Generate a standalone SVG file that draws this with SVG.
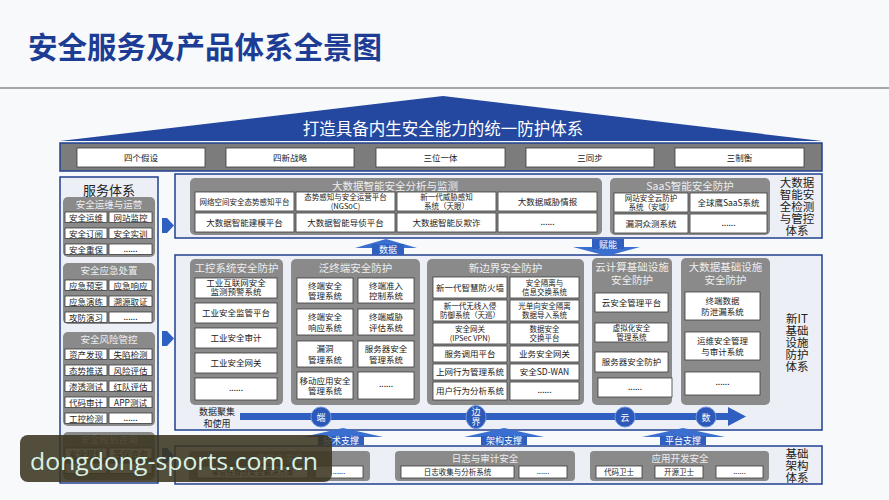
<svg xmlns="http://www.w3.org/2000/svg" width="889" height="500" viewBox="0 0 889 500">
<style>
text{font-family:"Noto Sans CJK SC","Noto Sans",sans-serif;text-anchor:middle}
.panel{fill:#eceff5;stroke:#21408f;stroke-width:1.5}
.grp{fill:#8a8a8a}
.bx{fill:#fff;stroke:#3a3a3a;stroke-width:0.8}
.gt{fill:#eeeeee;font-size:10.5px}
.gs{fill:#eeeeee;font-size:9.5px}
.t{fill:#222;font-size:8.5px}
.ts{fill:#222;font-size:7.5px}
.lb{fill:#222;font-size:11.5px}
.blue{fill:#2f5fc0}
.lt{fill:#fff;font-size:9px}
</style>
<rect width="889" height="500" fill="#f8f9fb"/>
<text x="28" y="58" style="text-anchor:start;font-size:29.5px;font-weight:700;fill:#1d3d95">安全服务及产品体系全景图</text>
<line x1="0" y1="88" x2="889" y2="88" stroke="#8a8a8a" stroke-width="1.5"/>

<g id="roof">
<polygon points="60,141 443,96 822,141" fill="#24479f"/>
<text x="443" y="135" style="fill:#fff;font-size:16.5px">打造具备内生安全能力的统一防护体系</text>
</g>
<g id="band">
<rect x="60" y="143" width="762" height="28" fill="#7c7c7c" stroke="#21408f" stroke-width="1.5"/>
<rect class="bx" x="77" y="148" width="128" height="19"/><text class="t" x="141" y="161">四个假设</text>
<rect class="bx" x="226" y="148" width="128" height="19"/><text class="t" x="290" y="161">四新战略</text>
<rect class="bx" x="376" y="148" width="129" height="19"/><text class="t" x="440.5" y="161">三位一体</text>
<rect class="bx" x="526" y="148" width="128" height="19"/><text class="t" x="590" y="161">三同步</text>
<rect class="bx" x="675" y="148" width="129" height="19"/><text class="t" x="739.5" y="161">三制衡</text>
</g>

<g id="service">
<rect class="panel" x="60" y="177" width="98" height="306"/>
<text x="109" y="195" style="fill:#222;font-size:13px">服务体系</text>
<rect class="grp" x="63" y="197" width="92" height="60" rx="5"/>
<text class="gs" x="109" y="208">安全运维与运营</text>
<rect class="bx" x="65" y="212" width="42" height="10.5"/><text class="t" x="86" y="220.5">安全运维</text>
<rect class="bx" x="109" y="212" width="43" height="10.5"/><text class="t" x="130.5" y="220.5">网站监控</text>
<rect class="bx" x="65" y="228" width="42" height="10.5"/><text class="t" x="86" y="236.5">安全订阅</text>
<rect class="bx" x="109" y="228" width="43" height="10.5"/><text class="t" x="130.5" y="236.5">安全实训</text>
<rect class="bx" x="65" y="244" width="42" height="10.5"/><text class="t" x="86" y="252.5">安全重保</text>
<rect class="bx" x="109" y="244" width="43" height="10.5"/><text class="t" x="130.5" y="251.5">......</text>

<rect class="grp" x="63" y="263" width="92" height="61" rx="5"/>
<text class="gs" x="109" y="274">安全应急处置</text>
<rect class="bx" x="65" y="280" width="42" height="10.5"/><text class="t" x="86" y="288.5">应急预案</text>
<rect class="bx" x="109" y="280" width="43" height="10.5"/><text class="t" x="130.5" y="288.5">应急响应</text>
<rect class="bx" x="65" y="296" width="42" height="10.5"/><text class="t" x="86" y="304.5">应急演练</text>
<rect class="bx" x="109" y="296" width="43" height="10.5"/><text class="t" x="130.5" y="304.5">溯源取证</text>
<rect class="bx" x="65" y="312" width="42" height="10.5"/><text class="t" x="86" y="320.5">攻防演习</text>
<rect class="bx" x="109" y="312" width="43" height="10.5"/><text class="t" x="130.5" y="319.5">......</text>

<rect class="grp" x="63" y="332" width="92" height="94" rx="5"/>
<text class="gs" x="109" y="343">安全风险管控</text>
<rect class="bx" x="65" y="349" width="42" height="10.5"/><text class="t" x="86" y="357.5">资产发现</text>
<rect class="bx" x="109" y="349" width="43" height="10.5"/><text class="t" x="130.5" y="357.5">失陷检测</text>
<rect class="bx" x="65" y="365" width="42" height="10.5"/><text class="t" x="86" y="373.5">态势推送</text>
<rect class="bx" x="109" y="365" width="43" height="10.5"/><text class="t" x="130.5" y="373.5">风险评估</text>
<rect class="bx" x="65" y="381" width="42" height="10.5"/><text class="t" x="86" y="389.5">渗透测试</text>
<rect class="bx" x="109" y="381" width="43" height="10.5"/><text class="t" x="130.5" y="389.5">红队评估</text>
<rect class="bx" x="65" y="397" width="42" height="10.5"/><text class="t" x="86" y="405.5">代码审计</text>
<rect class="bx" x="109" y="397" width="43" height="10.5"/><text class="t" x="130.5" y="405.5">APP测试</text>
<rect class="bx" x="65" y="413" width="42" height="10.5"/><text class="t" x="86" y="421.5">工控检测</text>
<rect class="bx" x="109" y="413" width="43" height="10.5"/><text class="t" x="130.5" y="420.5">......</text>

<rect class="grp" x="63" y="432" width="92" height="48" rx="5"/>
<text class="gs" x="109" y="443">安全规划咨询</text>
<rect class="bx" x="65" y="448" width="42" height="10.5"/><text class="t" x="86" y="456.5">安全规划</text>
<rect class="bx" x="109" y="448" width="43" height="10.5"/><text class="t" x="130.5" y="456.5">等保咨询</text>
<rect class="bx" x="65" y="463" width="42" height="10.5"/>
<rect class="bx" x="109" y="463" width="43" height="10.5"/>
</g>

<g id="bigdata">
<rect class="panel" x="175" y="174" width="647" height="64"/>
<text class="lb" x="797" y="187">大数据</text>
<text class="lb" x="797" y="199">智能安</text>
<text class="lb" x="797" y="211">全检测</text>
<text class="lb" x="797" y="223">与管控</text>
<text class="lb" x="797" y="235">体系</text>
<rect class="grp" x="190" y="178" width="412" height="57" rx="5"/>
<text class="gt" x="395" y="190">大数据智能安全分析与监测</text>
<rect class="bx" x="195" y="192" width="99" height="19"/><text class="ts" x="244.5" y="204.5">网络空间安全态势感知平台</text>
<rect class="bx" x="296" y="192" width="99" height="19"/><text class="ts" x="345.5" y="200">态势感知与安全运营平台</text><text class="ts" x="345.5" y="209">(NGSoC)</text>
<rect class="bx" x="397" y="192" width="99" height="19"/><text class="ts" x="446.5" y="200">新一代威胁感知</text><text class="ts" x="446.5" y="209">系统（天眼）</text>
<rect class="bx" x="498" y="192" width="99" height="19"/><text class="t" x="547.5" y="204.5">大数据威胁情报</text>
<rect class="bx" x="195" y="213" width="99" height="19"/><text class="t" x="244.5" y="225.5">大数据智能建模平台</text>
<rect class="bx" x="296" y="213" width="99" height="19"/><text class="t" x="345.5" y="225.5">大数据智能导侦平台</text>
<rect class="bx" x="397" y="213" width="99" height="19"/><text class="t" x="446.5" y="225.5">大数据智能反欺诈</text>
<rect class="bx" x="498" y="213" width="99" height="19"/><text class="t" x="547.5" y="224.5">......</text>
</g>
<g id="saas">
<rect class="grp" x="610" y="178" width="160" height="57" rx="5"/>
<text class="gt" x="690" y="190">SaaS智能安全防护</text>
<rect class="bx" x="614" y="193" width="74" height="19"/><text class="ts" x="651" y="201">网站安全云防护</text><text class="ts" x="651" y="210">系统（安域）</text>
<rect class="bx" x="690" y="193" width="77" height="19"/><text class="t" x="728.5" y="205.5">全球鹰SaaS系统</text>
<rect class="bx" x="614" y="214" width="74" height="19"/><text class="t" x="651" y="226.5">漏洞众测系统</text>
<rect class="bx" x="690" y="214" width="77" height="19"/><text class="t" x="728.5" y="225.5">......</text>
</g>

<g id="newit">
<rect class="panel" x="175" y="255" width="647" height="175"/>
<text class="lb" x="797" y="323">新IT</text>
<text class="lb" x="797" y="335">基础</text>
<text class="lb" x="797" y="347">设施</text>
<text class="lb" x="797" y="359">防护</text>
<text class="lb" x="797" y="371">体系</text>
<text x="217" y="415" style="fill:#222;font-size:9px">数据聚集</text>
<text x="217" y="427" style="fill:#222;font-size:9px">和使用</text>
</g>
<g id="ics">
<rect class="grp" x="190" y="259" width="93" height="146" rx="5"/>
<text class="gt" x="236.5" y="272">工控系统安全防护</text>
<rect class="bx" x="195" y="278" width="82" height="20"/><text class="t" x="236" y="285.5">工业互联网安全</text><text class="t" x="236" y="295">监测预警系统</text>
<rect class="bx" x="195" y="303" width="82" height="20"/><text class="t" x="236" y="316">工业安全监管平台</text>
<rect class="bx" x="195" y="328" width="82" height="20"/><text class="t" x="236" y="341">工业安全审计</text>
<rect class="bx" x="195" y="353" width="82" height="20"/><text class="t" x="236" y="366">工业安全网关</text>
<rect class="bx" x="195" y="378" width="82" height="22"/><text class="t" x="236" y="391">......</text>
</g>
<g id="endpoint">
<rect class="grp" x="291" y="259" width="129" height="146" rx="5"/>
<text class="gt" x="355.5" y="272">泛终端安全防护</text>
<rect class="bx" x="297" y="278" width="56" height="25"/><text class="t" x="325" y="288.5">终端安全</text><text class="t" x="325" y="299">管理系统</text>
<rect class="bx" x="358" y="278" width="56" height="25"/><text class="t" x="386" y="288.5">终端准入</text><text class="t" x="386" y="299">控制系统</text>
<rect class="bx" x="297" y="309" width="56" height="26"/><text class="t" x="325" y="320">终端安全</text><text class="t" x="325" y="330.5">响应系统</text>
<rect class="bx" x="358" y="309" width="56" height="26"/><text class="t" x="386" y="320">终端威胁</text><text class="t" x="386" y="330.5">评估系统</text>
<rect class="bx" x="297" y="341" width="56" height="26"/><text class="t" x="325" y="352">漏洞</text><text class="t" x="325" y="362.5">管理系统</text>
<rect class="bx" x="358" y="341" width="56" height="26"/><text class="t" x="386" y="352">服务器安全</text><text class="t" x="386" y="362.5">管理系统</text>
<rect class="bx" x="297" y="372" width="56" height="27"/><text class="t" x="325" y="383.5">移动应用安全</text><text class="t" x="325" y="394">管理系统</text>
<rect class="bx" x="358" y="372" width="56" height="27"/><text class="t" x="386" y="387">......</text>
</g>
<g id="boundary">
<rect class="grp" x="427" y="259" width="157" height="146" rx="5"/>
<text class="gt" x="505.5" y="272">新边界安全防护</text>
<rect class="bx" x="433" y="277" width="74" height="21"/><text class="t" x="470" y="290.5">新一代智慧防火墙</text>
<rect class="bx" x="510" y="277" width="69" height="21"/><text class="ts" x="544.5" y="286">安全隔离与</text><text class="ts" x="544.5" y="295">信息交换系统</text>
<rect class="bx" x="433" y="300" width="74" height="21"/><text class="ts" x="470" y="309">新一代无线入侵</text><text class="ts" x="470" y="318">防御系统（天巡）</text>
<rect class="bx" x="510" y="300" width="69" height="21"/><text class="ts" x="544.5" y="309">光单向安全隔离</text><text class="ts" x="544.5" y="318">数据导入系统</text>
<rect class="bx" x="433" y="323" width="74" height="21"/><text class="ts" x="470" y="332">安全网关</text><text class="ts" x="470" y="341">(IPSec VPN)</text>
<rect class="bx" x="510" y="323" width="69" height="21"/><text class="ts" x="544.5" y="332">数据安全</text><text class="ts" x="544.5" y="341">交换平台</text>
<rect class="bx" x="433" y="346" width="74" height="16"/><text class="t" x="470" y="357">服务调用平台</text>
<rect class="bx" x="510" y="346" width="69" height="16"/><text class="t" x="544.5" y="357">业务安全网关</text>
<rect class="bx" x="433" y="364" width="74" height="16"/><text class="t" x="470" y="375">上网行为管理系统</text>
<rect class="bx" x="510" y="364" width="69" height="16"/><text class="t" x="544.5" y="375">安全SD-WAN</text>
<rect class="bx" x="433" y="382" width="74" height="18"/><text class="t" x="470" y="394">用户行为分析系统</text>
<rect class="bx" x="510" y="382" width="69" height="18"/><text class="t" x="544.5" y="393">......</text>
</g>
<g id="cloud">
<rect class="grp" x="592" y="258" width="80" height="147" rx="5"/>
<text class="gt" x="632" y="271">云计算基础设施</text>
<text class="gt" x="632" y="284">安全防护</text>
<rect class="bx" x="595" y="293" width="73" height="19"/><text class="t" x="631.5" y="305.5">云安全管理平台</text>
<rect class="bx" x="595" y="323" width="73" height="19"/><text class="ts" x="631.5" y="331">虚拟化安全</text><text class="ts" x="631.5" y="340">管理系统</text>
<rect class="bx" x="595" y="352" width="73" height="20"/><text class="t" x="631.5" y="365">服务器安全防护</text>
<rect class="bx" x="598" y="378" width="74" height="19"/><text class="t" x="635" y="389.5">......</text>
</g>
<g id="bdinfra">
<rect class="grp" x="681" y="258" width="89" height="147" rx="5"/>
<text class="gt" x="725.5" y="271">大数据基础设施</text>
<text class="gt" x="725.5" y="284">安全防护</text>
<rect class="bx" x="685" y="292" width="75" height="28"/><text class="t" x="722.5" y="304">终端数据</text><text class="t" x="722.5" y="314.5">防泄漏系统</text>
<rect class="bx" x="685" y="332" width="75" height="28"/><text class="t" x="722.5" y="344">运维安全管理</text><text class="t" x="722.5" y="354.5">与审计系统</text>
<rect class="bx" x="685" y="372" width="75" height="23"/><text class="t" x="722.5" y="385">......</text>
</g>

<g id="base">
<rect class="panel" x="175" y="446" width="647" height="38"/>
<text class="lb" x="797" y="458">基础</text>
<text class="lb" x="797" y="470">架构</text>
<text class="lb" x="797" y="482">体系</text>
<rect class="grp" x="189" y="451" width="181" height="30" rx="4"/>
<text class="gs" x="280" y="462">零信任安全</text>
<rect class="bx" x="197" y="466" width="111" height="12"/><text class="ts" x="252.5" y="475">零信任身份安全解决方案</text>
<rect class="bx" x="315" y="466" width="48" height="12"/><text class="ts" x="339" y="474">......</text>
<rect class="grp" x="395" y="451" width="180" height="30" rx="4"/>
<text class="gs" x="485" y="462">日志与审计安全</text>
<rect class="bx" x="401" y="466" width="113" height="12"/><text class="ts" x="457.5" y="475">日志收集与分析系统</text>
<rect class="bx" x="519" y="466" width="48" height="12"/><text class="ts" x="543" y="474">......</text>
<rect class="grp" x="590" y="451" width="179" height="30" rx="4"/>
<text class="gs" x="680" y="462">应用开发安全</text>
<rect class="bx" x="596" y="466" width="46" height="12"/><text class="ts" x="619" y="475">代码卫士</text>
<rect class="bx" x="655" y="466" width="48" height="12"/><text class="ts" x="679" y="475">开源卫士</text>
<rect class="bx" x="716" y="466" width="47" height="12"/><text class="ts" x="739.5" y="474">......</text>
</g>

<g id="connectors">
<polygon class="blue" points="162,218 167,218 174,225.5 167,233 162,233"/>
<polygon class="blue" points="162,331 167,331 174,338.5 167,346 162,346"/>
<polygon class="blue" points="162,448 167,448 174,455.5 167,463 162,463"/>
<polygon points="355,248 386,239 417,248" fill="#3b6fcf"/>
<rect class="blue" x="372" y="244" width="32" height="11"/>
<text class="lt" x="388" y="253">数据</text>
<polygon points="573,247 640,247 607,256" fill="#3b6fcf"/>
<rect class="blue" x="592" y="239" width="32" height="10"/>
<text class="lt" x="608" y="247.5">赋能</text>
<rect class="blue" x="240" y="413" width="490" height="7"/>
<polygon class="blue" points="728,407 746,416.5 728,426"/>
<circle cx="321" cy="417" r="10" fill="#2c58b8" stroke="#6f95e0" stroke-width="1"/>
<text class="lt" x="321" y="420.5">端</text>
<ellipse cx="476" cy="417" rx="10" ry="11.5" fill="#2c58b8" stroke="#6f95e0" stroke-width="1"/>
<text class="lt" x="476" y="415">边</text><text class="lt" x="476" y="425">界</text>
<circle cx="625" cy="417" r="10" fill="#2c58b8" stroke="#6f95e0" stroke-width="1"/>
<text class="lt" x="625" y="420.5">云</text>
<circle cx="706" cy="417" r="10" fill="#2c58b8" stroke="#6f95e0" stroke-width="1"/>
<text class="lt" x="706" y="420.5">数</text>
<polygon points="303,437 343,428 383,437" fill="#3b6fcf"/>
<rect class="blue" x="318" y="436" width="46" height="9"/>
<text class="lt" x="341" y="444">技术支撑</text>
<polygon points="464,437 504,428 544,437" fill="#3b6fcf"/>
<rect class="blue" x="481" y="436" width="46" height="9"/>
<text class="lt" x="504" y="444">架构支撑</text>
<polygon points="642,437 683,428 725,437" fill="#3b6fcf"/>
<rect class="blue" x="660" y="436" width="46" height="9"/>
<text class="lt" x="683" y="444">平台支撑</text>
</g>

<g id="watermark">
<rect x="20" y="435" width="312" height="47" rx="8" fill="#3b3420" fill-opacity="0.88"/>
<text x="30" y="470" textLength="288" lengthAdjust="spacingAndGlyphs" style="text-anchor:start;font-family:'Open Sans','Noto Sans',sans-serif;font-size:24px;fill:#d9f2e4">dongdong-sports.com.cn</text>
</g>
</svg>
